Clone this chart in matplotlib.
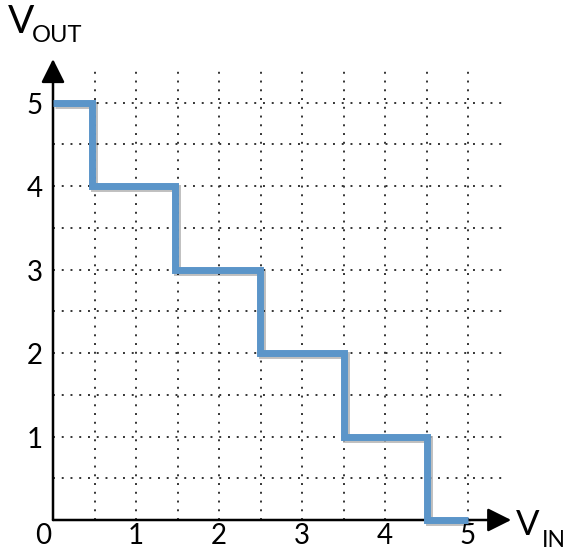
import matplotlib.pyplot as plt
import matplotlib.patheffects as pe

# step transfer curve: V_OUT against V_IN
v_in = [0.0, 0.47, 0.47, 1.47, 1.47, 2.49, 2.49, 3.5, 3.5, 4.5, 4.5, 5.0]
v_out = [5, 5, 4, 4, 3, 3, 2, 2, 1, 1, 0, 0]
x_ticks = [0, 1, 2, 3, 4, 5]
y_ticks = [1, 2, 3, 4, 5]
grid_vals = [0.5, 1.0, 1.5, 2.0, 2.5, 3.0, 3.5, 4.0, 4.5, 5.0]

plt.rcParams["font.family"] = ["Lato", "DejaVu Sans"]

fig = plt.figure(figsize=(5.66, 5.5), dpi=100)
ax = fig.add_axes([0, 0, 1, 1])
ax.set_xlim(-53 / 83, (566 - 53) / 83)
ax.set_ylim(-30 / 83.5, 520 / 83.5)
ax.axis("off")

top = 5.45
# dotted grid
for g in grid_vals:
    ax.plot([g, g], [0, top], color="#333333", lw=1.4,
            linestyle=(0, (1, 3.5)), zorder=1)
    ax.plot([0, top], [g, g], color="#333333", lw=1.4,
            linestyle=(0, (1, 3.5)), zorder=1)

# axes with arrows
arrow = dict(arrowstyle="-|>", lw=1.8, color="black",
             mutation_scale=36, shrinkA=0, shrinkB=0)
ax.annotate("", xy=(0, 5.52), xytext=(0, 0), arrowprops=arrow, zorder=3)
ax.annotate("", xy=(5.52, 0), xytext=(0, 0), arrowprops=arrow, zorder=3)

# curve
ax.plot(v_in, v_out, color="#5b95c9", lw=5, solid_joinstyle="miter",
        solid_capstyle="butt", zorder=4,
        path_effects=[pe.SimpleLineShadow(offset=(1.5, -1.5), alpha=0.25),
                      pe.Normal()])

# tick labels
for t in x_ticks:
    ax.text(t - (0.12 if t == 0 else 0), -0.03, str(t), fontsize=20,
            ha="center", va="top")
for t in y_ticks:
    ax.text(-0.12, t - 0.04, str(t), fontsize=20, ha="right", va="center")

# axis titles
ax.text(-0.54, 5.83, "V", fontsize=28, ha="left", va="baseline")
ax.text(-0.25, 5.72, "OUT", fontsize=17, ha="left", va="baseline")
ax.text(5.58, -0.18, "V", fontsize=25, ha="left", va="baseline")
ax.text(5.89, -0.32, "IN", fontsize=16.5, ha="left", va="baseline")

fig.savefig("out.png", dpi=100)
